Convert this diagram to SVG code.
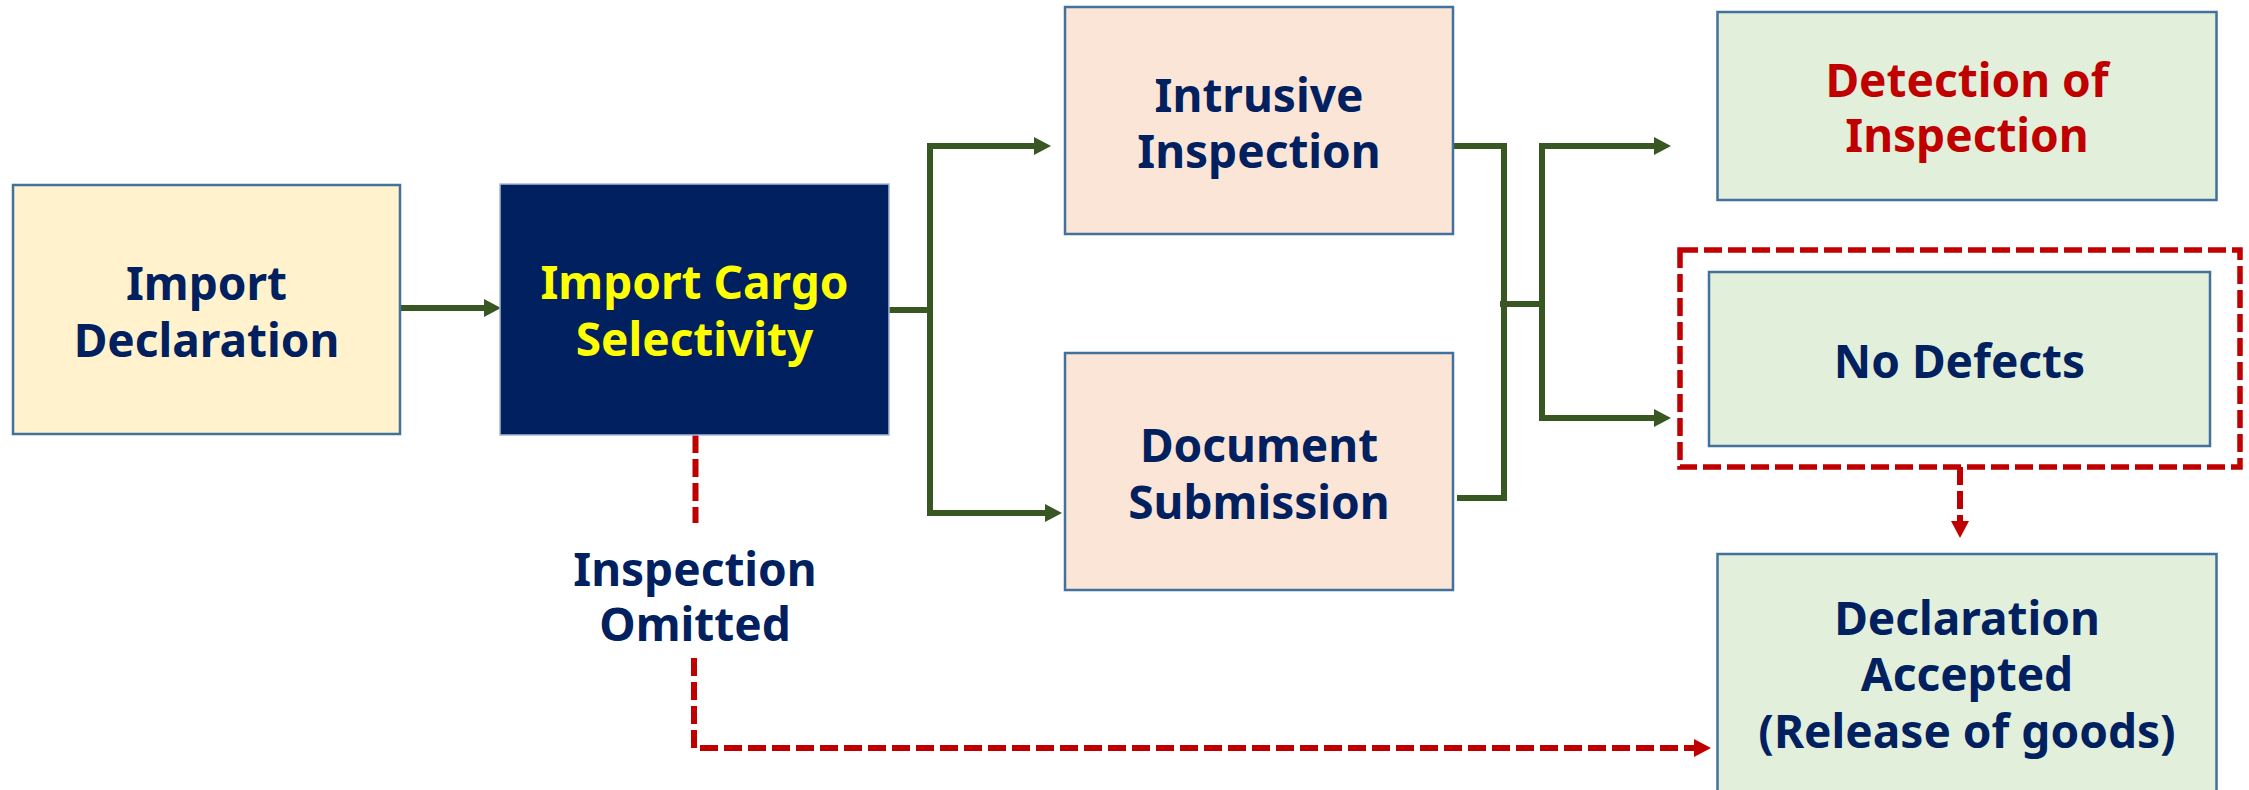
<svg xmlns="http://www.w3.org/2000/svg" width="2249" height="790" viewBox="0 0 2249 790">
<style>
.box{stroke:#41719C;stroke-width:2.5}
.t{font-family:"Noto Sans","Liberation Sans",sans-serif;font-weight:bold;font-size:46px;text-anchor:middle;fill:#002060}
.g{fill:none;stroke:#385723;stroke-width:6}
.r{fill:none;stroke:#C00000;stroke-width:6;stroke-dasharray:18 6}
</style>
<defs>
<marker id="ag" markerUnits="userSpaceOnUse" markerWidth="17" markerHeight="18" refX="9" refY="9" orient="auto"><path d="M0,0 L17,9 L0,18 z" fill="#385723"/></marker>
<marker id="ar" markerUnits="userSpaceOnUse" markerWidth="17" markerHeight="18" refX="9" refY="9" orient="auto"><path d="M0,0 L17,9 L0,18 z" fill="#C00000"/></marker>
</defs>
<rect width="2249" height="790" fill="#fff"/>
<g id="connectors">
<path class="g" d="M400,308 H493" marker-end="url(#ag)"/>
<path class="g" d="M889,310 H930"/>
<path class="g" d="M930,143 V516"/>
<path class="g" d="M927,146 H1043" marker-end="url(#ag)"/>
<path class="g" d="M927,513 H1054" marker-end="url(#ag)"/>
<path class="g" d="M1453,146 H1507"/>
<path class="g" d="M1504,146 V501"/>
<path class="g" d="M1457,498 H1501"/>
<path class="g" d="M1500,304 H1545"/>
<path class="g" d="M1542,143 V419"/>
<path class="g" d="M1539,146 H1663" marker-end="url(#ag)"/>
<path class="g" d="M1539,418 H1663" marker-end="url(#ag)"/>
<path class="r" d="M695.5,435 V523"/>
<path class="r" d="M694,658 V748 H1703" marker-end="url(#ar)"/>
<path class="r" d="M1960,467 V530" marker-end="url(#ar)"/>
<rect x="1680" y="250" width="560" height="217" fill="none" stroke="#C00000" stroke-width="5.5" stroke-dasharray="18 6"/>
</g>
<g id="import-declaration">
<rect class="box" x="13" y="185" width="387" height="249" fill="#FFF2CC"/>
<text class="t" x="206.5" y="300">Import</text>
<text class="t" x="206.5" y="357">Declaration</text>
</g>
<g id="import-cargo-selectivity">
<rect x="500" y="184" width="389" height="251" fill="#002060" stroke="#A9B8D4" stroke-width="1.5"/>
<text class="t" x="694.5" y="299" style="fill:#FFFF00">Import Cargo</text>
<text class="t" x="694.5" y="356" style="fill:#FFFF00">Selectivity</text>
</g>
<g id="intrusive-inspection">
<rect class="box" x="1065" y="7" width="388" height="227" fill="#FBE5D6"/>
<text class="t" x="1259" y="112">Intrusive</text>
<text class="t" x="1259" y="168">Inspection</text>
</g>
<g id="document-submission">
<rect class="box" x="1065" y="353" width="388" height="237" fill="#FBE5D6"/>
<text class="t" x="1259" y="462">Document</text>
<text class="t" x="1259" y="519">Submission</text>
</g>
<g id="detection-of-inspection">
<rect class="box" x="1717.5" y="12" width="499" height="188" fill="#E2EFDA"/>
<text class="t" x="1967" y="97" style="fill:#C00000">Detection of</text>
<text class="t" x="1967" y="152" style="fill:#C00000">Inspection</text>
</g>
<g id="no-defects">
<rect class="box" x="1709" y="272" width="501" height="174" fill="#E2EFDA"/>
<text class="t" x="1959.5" y="378">No Defects</text>
</g>
<g id="declaration-accepted">
<rect class="box" x="1717.5" y="554" width="499" height="260" fill="#E2EFDA"/>
<text class="t" x="1967" y="635">Declaration</text>
<text class="t" x="1967" y="691">Accepted</text>
<text class="t" x="1967" y="748">(Release of goods)</text>
</g>
<g id="inspection-omitted">
<text class="t" x="695" y="586">Inspection</text>
<text class="t" x="695" y="641">Omitted</text>
</g>
</svg>
